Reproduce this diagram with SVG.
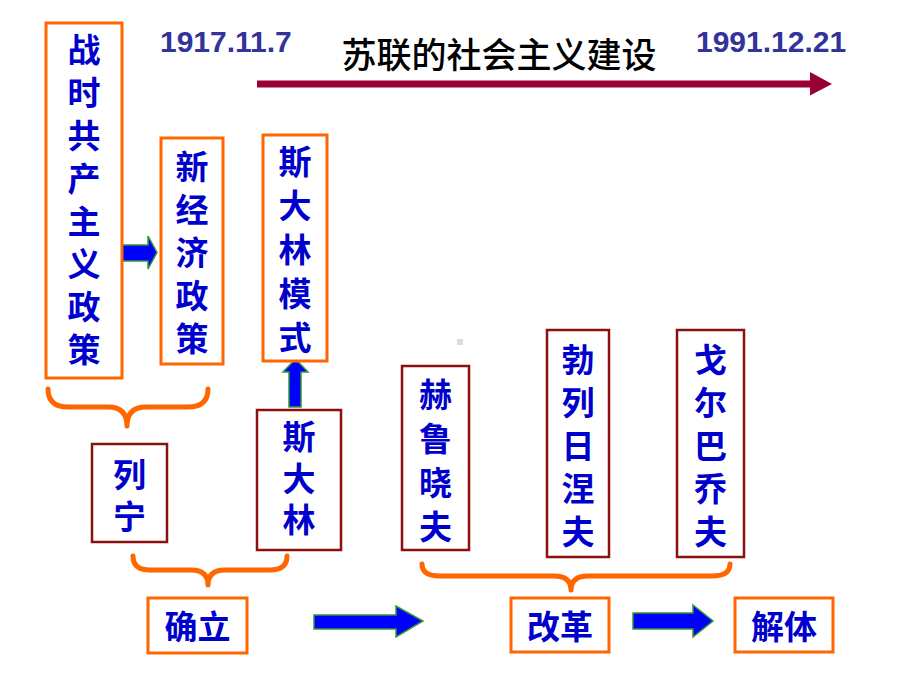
<svg xmlns="http://www.w3.org/2000/svg" width="920" height="690" viewBox="0 0 920 690">
<style>
.ob{fill:#fff;stroke:#FF6600;stroke-width:3}
.rb{fill:#fff;stroke:#8B1010;stroke-width:2.5}
.t{font-family:"Noto Sans CJK SC","Noto Sans",sans-serif;font-weight:700;font-size:33px;fill:#0000CC;text-anchor:middle;dominant-baseline:central}
.d{font-family:"Liberation Sans",Arial,sans-serif;font-weight:700;font-size:30px;fill:#333399}
.ttl{font-family:"Noto Sans CJK SC","Noto Sans",sans-serif;font-weight:500;font-size:35px;fill:#000;text-anchor:middle;dominant-baseline:central}
.br{fill:none;stroke:#FF6600;stroke-width:5;stroke-linecap:round;stroke-linejoin:round}
.ar{fill:#0000FF;stroke:#339933;stroke-width:1.5}
</style>
<rect width="920" height="690" fill="#fff"/>
<g id="header">
<text class="d" x="160" y="52">1917.11.7</text>
<text class="d" x="696" y="52">1991.12.21</text>
<text class="ttl" x="499" y="52">苏联的社会主义建设</text>
</g>
<g id="connectors">
<path d="M257,80.5 H810 V72 L832,84 L810,95.5 V87.5 H257 Z" fill="#990033"/>
<path class="ar" d="M122,245 H148 V236 L157,252.5 L148,269 V261 H122 Z"/>
<path class="ar" d="M289,407 V372 H283 L295.5,359 L308,372 H301 V407 Z"/>
<path class="ar" d="M314,615 H396 V606 L423,621 L396,637 V629 H314 Z"/>
<path class="ar" d="M633,613 H693 V605 L713,621 L693,637 V629 H633 Z"/>
<path class="br" d="M48,389 Q48,407 68,407 L108,407 Q127,407 127,426 Q127,407 146,407 L188,407 Q208,407 208,389"/>
<path class="br" d="M133,556 Q133,570 150,570 L191,570 Q208,570 208,585 Q208,570 225,570 L270,570 Q287,570 287,556"/>
<path class="br" d="M422,564 Q422,576 440,576 L554,576 Q571,576 571,590 Q571,576 588,576 L712,576 Q730,576 730,564"/>
</g>
<rect x="457" y="339" width="6" height="6" fill="#ddd"/>
<g id="n-zhanshi">
<rect class="ob" x="46" y="23" width="76" height="355"/>
<text class="t" x="84" y="48">战</text><text class="t" x="84" y="91">时</text><text class="t" x="84" y="134">共</text><text class="t" x="84" y="177">产</text><text class="t" x="84" y="220">主</text><text class="t" x="84" y="262">义</text><text class="t" x="84" y="305">政</text><text class="t" x="84" y="348">策</text>
</g>
<g id="n-xinjingji">
<rect class="ob" x="161" y="138" width="62" height="226"/>
<text class="t" x="192" y="165">新</text><text class="t" x="192" y="208">经</text><text class="t" x="192" y="251">济</text><text class="t" x="192" y="294">政</text><text class="t" x="192" y="337">策</text>
</g>
<g id="n-moshi">
<rect class="ob" x="263" y="135" width="64" height="226"/>
<text class="t" x="295" y="160">斯</text><text class="t" x="295" y="204">大</text><text class="t" x="295" y="248">林</text><text class="t" x="295" y="292">模</text><text class="t" x="295" y="336">式</text>
</g>
<g id="n-stalin">
<rect class="rb" x="257" y="410" width="84" height="140"/>
<text class="t" x="299" y="435">斯</text><text class="t" x="299" y="477">大</text><text class="t" x="299" y="518">林</text>
</g>
<g id="n-lenin">
<rect class="rb" x="92" y="444" width="75" height="98"/>
<text class="t" x="129.5" y="473">列</text><text class="t" x="129.5" y="515">宁</text>
</g>
<g id="n-queli">
<rect class="ob" x="148" y="598" width="99" height="55"/>
<text class="t" x="197.5" y="625">确立</text>
</g>
<g id="n-khrushchev">
<rect class="rb" x="402" y="366" width="67" height="184"/>
<text class="t" x="435.5" y="393">赫</text><text class="t" x="435.5" y="437">鲁</text><text class="t" x="435.5" y="481">晓</text><text class="t" x="435.5" y="525">夫</text>
</g>
<g id="n-brezhnev">
<rect class="rb" x="547" y="330" width="62" height="227"/>
<text class="t" x="578" y="358">勃</text><text class="t" x="578" y="401">列</text><text class="t" x="578" y="444">日</text><text class="t" x="578" y="487">涅</text><text class="t" x="578" y="530">夫</text>
</g>
<g id="n-gorbachev">
<rect class="rb" x="677" y="330" width="67" height="227"/>
<text class="t" x="710.5" y="358">戈</text><text class="t" x="710.5" y="401">尔</text><text class="t" x="710.5" y="444">巴</text><text class="t" x="710.5" y="487">乔</text><text class="t" x="710.5" y="530">夫</text>
</g>
<g id="n-gaige">
<rect class="ob" x="511" y="598" width="98" height="54"/>
<text class="t" x="560" y="625">改革</text>
</g>
<g id="n-jieti">
<rect class="ob" x="735" y="598" width="98" height="54"/>
<text class="t" x="784" y="625">解体</text>
</g>
</svg>
